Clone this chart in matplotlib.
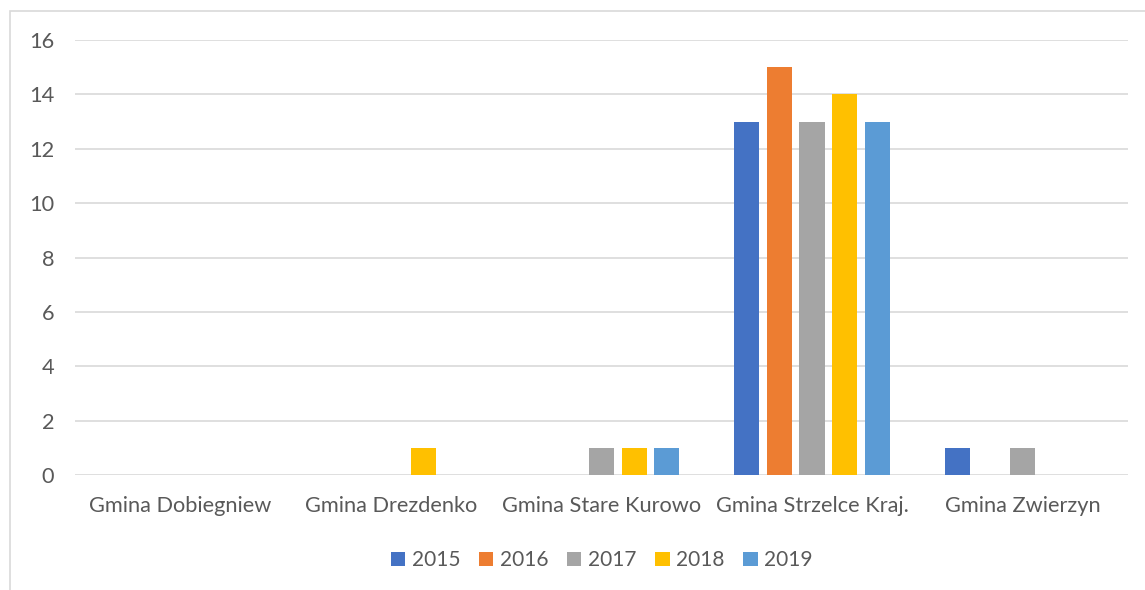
import matplotlib
matplotlib.use("Agg")
import matplotlib.pyplot as plt
import numpy as np

categories = ["Gmina Dobiegniew", "Gmina Drezdenko", "Gmina Stare Kurowo",
              "Gmina Strzelce Kraj.", "Gmina Zwierzyn"]
years = ["2015", "2016", "2017", "2018", "2019"]
v2015 = [0, 0, 0, 13, 1]
v2016 = [0, 0, 0, 15, 0]
v2017 = [0, 0, 1, 13, 1]
v2018 = [0, 1, 1, 14, 0]
v2019 = [0, 0, 1, 13, 0]
series = [v2015, v2016, v2017, v2018, v2019]
colors = ["#4472C4", "#ED7D31", "#A5A5A5", "#FFC000", "#5B9BD5"]

plt.rcParams['font.family'] = ['Lato', 'DejaVu Sans']
txt = "#595959"

fig = plt.figure(figsize=(11.45, 5.9), dpi=100)
# chart border (Excel chart area)
fig.patches.append(plt.Rectangle((10/1145, -0.1), 1.2, (590-11)/590 + 0.1,
                                 transform=fig.transFigure, fill=False,
                                 edgecolor="#D9D9D9", linewidth=1.2))

ax = fig.add_axes([75/1145, (590-475)/590, (1128-75)/1145, 435/590])

x = np.arange(len(categories))
w = 0.12
step = 0.155
for i, (vals, c) in enumerate(zip(series, colors)):
    ax.bar(x + (i - 2) * step, vals, width=w, color=c, label=years[i], zorder=3)

ax.set_xlim(-0.5, len(categories) - 0.5)
ax.set_ylim(0, 16)
ax.set_yticks(range(0, 17, 2))
ax.set_xticks(x)
ax.set_xticklabels(categories)
ax.grid(axis="y", color="#D9D9D9", linewidth=1.2, zorder=0)
for s in ax.spines.values():
    s.set_visible(False)
ax.tick_params(axis="both", length=0, colors=txt, labelsize=15.7)
ax.tick_params(axis="x", pad=15)
ax.tick_params(axis="y", pad=15)

leg = ax.legend(loc="upper center", bbox_to_anchor=(0.5, -0.13), ncol=5,
                frameon=False, fontsize=15, handlelength=0.7, handleheight=0.7,
                handletextpad=0.3, columnspacing=0.9)
for t in leg.get_texts():
    t.set_color(txt)

fig.savefig("out.png", dpi=100)
